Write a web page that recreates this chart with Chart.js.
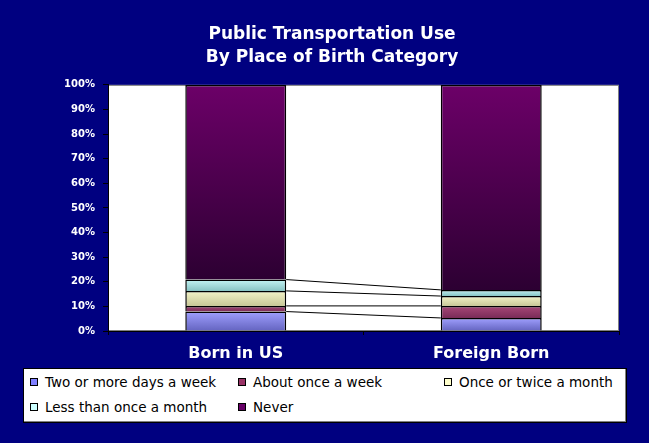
<!DOCTYPE HTML>
<html>
<head>
    <title>Public Transportation Use</title>
    <meta charset="utf-8">
    <script src="https://cdn.jsdelivr.net/npm/chart.js@4/dist/chart.umd.min.js"></script>
    <style>
        body {
            margin: 0;
            background: #000080;
        }
        .wrap {
            position: relative;
            width: 649px;
            height: 443px;
        }
        #chart {
            position: absolute;
            top: 0;
            left: 0;
        }
        /* legend box under the chart */
        .legend {
            position: absolute;
            left: 23px;
            top: 368px;
            width: 602px;
            height: 53px;
            background: #fff;
            border: 1px solid #000;
            box-shadow: inset -1px -1px 0 #808080;
            font-family: "DejaVu Sans", sans-serif;
            font-size: 13.5px;
            color: #000;
        }
        .legend div {
            position: absolute;
            white-space: nowrap;
            line-height: 16px;
        }
        .legend span {
            display: inline-block;
            width: 6px;
            height: 6px;
            border: 1px solid #000;
            margin-right: 7px;
            vertical-align: 1px;
        }
    </style>
</head>
<body>
    <div class="wrap">
        <canvas id="chart" width=649 height=443></canvas>
        <div class="legend" id="legend"></div>
    </div>
    <script>
        var categories = ['Born in US', 'Foreign Born'];
        var seriesNames = ['Two or more days a week', 'About once a week', 'Once or twice a month',
            'Less than once a month', 'Never'];
        // percent of each group, bottom segment first
        var twoOrMore = [7.9, 5.3];
        var aboutOnce = [2.3, 4.9];
        var onceTwice = [6.1, 4.0];
        var lessThanOnce = [4.6, 2.5];
        var never = [79.1, 83.3];

        var seriesValues = [twoOrMore, aboutOnce, onceTwice, lessThanOnce, never];
        // solid colour (legend) and top/bottom shades for the bar fill
        var solid = ['#8080ff', '#993366', '#ffffcc', '#ccffff', '#660066'];
        var shadeTop = ['#a0a0ff', '#a84878', '#f4f4c8', '#c4f4f4', '#6c0068'];
        var shadeBot = ['#6464c0', '#7a2c58', '#c8c898', '#88c4c4', '#2c0032'];

        function fillFor(i) {
            return function (ctx) {
                var chart = ctx.chart;
                var y = chart.scales.y;
                if (!chart.chartArea || !y || ctx.dataIndex === undefined) return solid[i];
                var lo = 0;
                for (var k = 0; k < i; k++) lo += seriesValues[k][ctx.dataIndex];
                var hi = lo + seriesValues[i][ctx.dataIndex];
                var g = chart.ctx.createLinearGradient(0, y.getPixelForValue(hi), 0, y.getPixelForValue(lo));
                g.addColorStop(0, shadeTop[i]);
                g.addColorStop(1, shadeBot[i]);
                return g;
            };
        }

        var datasets = seriesValues.map(function (vals, i) {
            return {
                label: seriesNames[i],
                data: vals,
                backgroundColor: fillFor(i),
                borderColor: '#000',
                borderWidth: 1.5,
                barPercentage: 0.395,
                categoryPercentage: 1
            };
        });

        // white plot area with grey frame
        var plotBack = {
            id: 'plotBack',
            beforeDraw: function (chart) {
                var a = chart.chartArea, c = chart.ctx;
                c.save();
                c.fillStyle = '#fff';
                c.fillRect(a.left, a.top, a.right - a.left, a.bottom - a.top);
                c.strokeStyle = '#808080';
                c.lineWidth = 1;
                c.strokeRect(a.left + 0.5, a.top + 0.5, a.right - a.left - 1, a.bottom - a.top - 1);
                c.restore();
            }
        };

        // series lines joining the segment tops of the two bars
        var seriesLines = {
            id: 'seriesLines',
            afterDatasetsDraw: function (chart) {
                var c = chart.ctx;
                c.save();
                c.strokeStyle = '#000';
                c.lineWidth = 1;
                for (var i = 0; i < seriesValues.length - 1; i++) {
                    var bars = chart.getDatasetMeta(i).data;
                    var a = bars[0], b = bars[1];
                    c.beginPath();
                    c.moveTo(a.x + a.width / 2, a.y);
                    c.lineTo(b.x - b.width / 2, b.y);
                    c.stroke();
                }
                c.restore();
            }
        };

        new Chart(document.getElementById('chart'), {
            type: 'bar',
            data: { labels: categories, datasets: datasets },
            plugins: [plotBack, seriesLines],
            options: {
                responsive: false,
                animation: false,
                layout: { padding: { left: 45, right: 30, top: 0, bottom: 80 } },
                plugins: {
                    legend: { display: false },
                    tooltip: { enabled: false },
                    title: {
                        display: true,
                        text: ['Public Transportation Use', 'By Place of Birth Category'],
                        color: '#fff',
                        font: { family: 'DejaVu Sans', size: 17, weight: 'bold', lineHeight: 1.35 },
                        padding: { top: 23, bottom: 16 }
                    }
                },
                scales: {
                    x: {
                        stacked: true,
                        grid: { display: true, drawOnChartArea: false, tickLength: 4, color: '#000' },
                        border: { color: '#000', width: 1 },
                        ticks: {
                            color: '#fff',
                            padding: 9,
                            font: { family: 'DejaVu Sans', size: 16, weight: 'bold' }
                        },
                        afterFit: function (s) { s.height = 32; }
                    },
                    y: {
                        stacked: true,
                        min: 0,
                        max: 100,
                        grid: { display: true, drawOnChartArea: false, tickLength: 5, color: '#000' },
                        border: { color: '#000', width: 1 },
                        ticks: {
                            stepSize: 10,
                            color: '#fff',
                            padding: 8,
                            font: { family: 'DejaVu Sans', size: 10, weight: 'bold' },
                            callback: function (v) { return v + '%'; }
                        },
                        afterFit: function (s) { s.width = 63; }
                    }
                }
            }
        });

        // legend laid out in columns like the original
        var cols = [6, 214, 420];
        var rows = [5, 30];
        var legend = document.getElementById('legend');
        seriesNames.forEach(function (name, i) {
            var d = document.createElement('div');
            d.style.left = cols[i % 3] + 'px';
            d.style.top = rows[Math.floor(i / 3)] + 'px';
            d.innerHTML = '<span style="background:' + solid[i] + '"></span>' + name;
            legend.appendChild(d);
        });
    </script>
</body>
</html>
